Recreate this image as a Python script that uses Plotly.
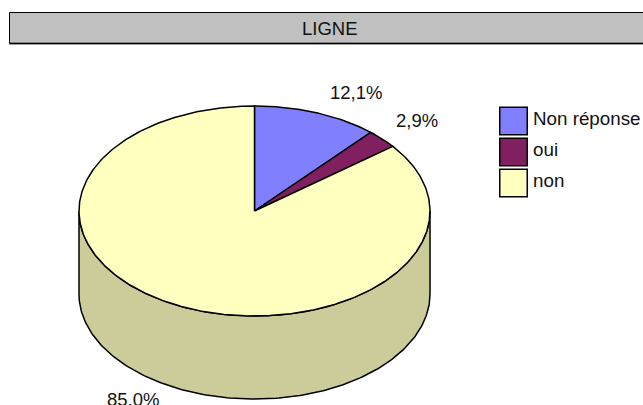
import numpy as np
import plotly.graph_objects as go

categories = ["Non réponse", "oui", "non"]
values = [12.1, 2.9, 85.0]
value_labels = ["12,1%", "2,9%", "85,0%"]
title_text = "LIGNE"

colors = ["#8080FF", "#802060", "#FFFFC0"]
side_color = "#CCCC9A"
FONT = "Liberation Sans"
cx, cy, rx, ry, depth = 254.5, 211.0, 175.5, 105.0, 83.0
label_pos = [(356, 92), (416.5, 120.5), (133, 399)]
legend_x, legend_y = 513.5, [121, 152, 183]


def to_xy(angle):
    """Clockwise angle from 12 o'clock on the tilted disc, with slight foreshortening."""
    a = np.radians(angle)
    t = np.arctan2(np.sin(a) * 0.93, np.cos(a))
    return cx + rx * np.sin(t), cy - ry * np.cos(t)


fig = go.Figure()

# front wall of the disc
tt = np.radians(np.linspace(90, 270, 181))
top_x = cx + rx * np.sin(tt)
top_y = cy - ry * np.cos(tt)
fig.add_trace(go.Scatter(
    x=np.r_[top_x, top_x[::-1], top_x[0]],
    y=np.r_[top_y + depth, top_y[::-1], top_y[0] + depth],
    mode="lines", fill="toself", fillcolor=side_color,
    line=dict(color="black", width=1.5), hoverinfo="skip", showlegend=False,
))

# slices on the top face
total = sum(values)
start = 0.0
for name, val, col in zip(categories, values, colors):
    end = start + 360.0 * val / total
    aa = np.linspace(start, end, max(int(end - start) * 2, 8))
    px, py = to_xy(aa)
    fig.add_trace(go.Scatter(
        x=np.r_[cx, px, cx], y=np.r_[cy, py, cy],
        mode="lines", fill="toself", fillcolor=col,
        line=dict(color="black", width=1.5), name=name, showlegend=False,
    ))
    start = end

# value labels
for (lx, ly), txt in zip(label_pos, value_labels):
    fig.add_annotation(x=lx, y=ly, text=txt, showarrow=False,
                       font=dict(family=FONT, size=18.5, color="#111111"))

# legend
fig.add_trace(go.Scatter(
    x=[legend_x] * 3, y=legend_y, mode="markers",
    marker=dict(symbol="square", size=27.5, color=colors, line=dict(color="black", width=1.5)),
    hoverinfo="skip", showlegend=False,
))
for yy, name in zip(legend_y, categories):
    fig.add_annotation(x=531, y=yy - 3, text=name, showarrow=False, xanchor="left",
                       font=dict(family=FONT, size=18.8, color="#111111"))

# title bar
fig.add_shape(type="rect", x0=9.5, x1=660, y0=12.5, y1=43.5, layer="below",
              fillcolor="#C0C0C0", line=dict(color="black", width=1))
fig.add_shape(type="line", x0=9, x1=660, y0=44.5, y1=44.5, layer="below",
              line=dict(color="#A0A0A0", width=1))
fig.add_shape(type="line", x0=10, x1=660, y0=42.5, y1=42.5, layer="below",
              line=dict(color="#808080", width=1))
fig.add_annotation(x=330, y=28, text=title_text, showarrow=False,
                   font=dict(family=FONT, size=18.5, color="#111111"))

fig.update_xaxes(range=[0, 643], visible=False, fixedrange=True)
fig.update_yaxes(range=[405, 0], visible=False, fixedrange=True)
fig.update_layout(
    width=643, height=405, margin=dict(l=0, r=0, t=0, b=0),
    paper_bgcolor="white", plot_bgcolor="white",
    showlegend=False,
)
fig.write_html("out.html", config={"displayModeBar": False},
               post_script="document.body.style.margin='0';document.documentElement.style.overflow='hidden';")
